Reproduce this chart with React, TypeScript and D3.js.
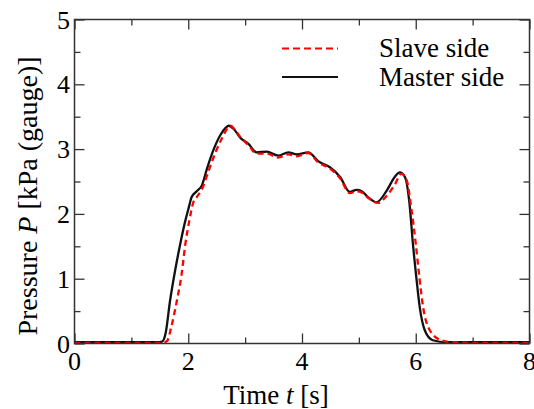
import { useEffect, useRef } from "react";
import * as d3 from "d3";

// master side (black, solid)
const masterTime = [0, 1.0, 1.45, 1.54, 1.6, 1.68, 1.77, 1.86, 1.95, 2.01, 2.06, 2.15, 2.24, 2.33, 2.44, 2.56, 2.66, 2.71, 2.8, 2.91, 3.06, 3.2, 3.38, 3.58, 3.76, 3.91, 4.11, 4.29, 4.49, 4.67, 4.84, 4.96, 5.05, 5.16, 5.31, 5.49, 5.63, 5.72, 5.81, 5.89, 5.95, 6.01, 6.07, 6.16, 6.3, 6.54, 7.0, 8.0];
const masterP = [0.02, 0.02, 0.02, 0.03, 0.15, 0.66, 1.13, 1.54, 1.9, 2.1, 2.26, 2.35, 2.44, 2.7, 2.98, 3.21, 3.33, 3.36, 3.31, 3.18, 3.08, 2.95, 2.96, 2.9, 2.95, 2.92, 2.95, 2.81, 2.72, 2.57, 2.34, 2.37, 2.35, 2.26, 2.18, 2.36, 2.57, 2.64, 2.57, 2.16, 1.54, 1.02, 0.56, 0.2, 0.05, 0.02, 0.02, 0.02];

// slave side (red, dashed)
const slaveTime = [0, 1.0, 1.55, 1.63, 1.7, 1.8, 1.88, 1.95, 2.02, 2.09, 2.15, 2.24, 2.36, 2.48, 2.6, 2.74, 2.82, 2.92, 3.06, 3.2, 3.38, 3.58, 3.76, 3.91, 4.11, 4.29, 4.49, 4.67, 4.84, 4.96, 5.05, 5.16, 5.34, 5.49, 5.63, 5.75, 5.84, 5.92, 6.0, 6.06, 6.13, 6.25, 6.45, 6.65, 7.0, 8.0];
const slaveP = [0.01, 0.01, 0.01, 0.04, 0.25, 0.66, 1.05, 1.54, 1.9, 2.18, 2.26, 2.38, 2.67, 2.95, 3.18, 3.36, 3.3, 3.18, 3.06, 2.93, 2.93, 2.87, 2.92, 2.89, 2.94, 2.79, 2.7, 2.55, 2.32, 2.35, 2.33, 2.25, 2.17, 2.28, 2.45, 2.62, 2.52, 2.1, 1.54, 1.05, 0.56, 0.2, 0.05, 0.02, 0.01, 0.01];

const xMajor = [0, 2, 4, 6, 8];
const xMinor = [1, 3, 5, 7];
const yMajor = [0, 1, 2, 3, 4, 5];
const yMinor = [0.5, 1.5, 2.5, 3.5, 4.5];

const legendLabels = ["Slave side", "Master side"];

const width = 534;
const height = 409;
const plot = { left: 74.5, right: 529.5, top: 19.5, bottom: 343.5 };
const font = "'Liberation Serif', 'Times New Roman', serif";

export default function App() {
    const xBotRef = useRef<SVGGElement>(null);
    const xTopRef = useRef<SVGGElement>(null);
    const yLeftRef = useRef<SVGGElement>(null);
    const yRightRef = useRef<SVGGElement>(null);

    const x = d3.scaleLinear().domain([0, 8]).range([plot.left, plot.right]);
    const y = d3.scaleLinear().domain([0, 5]).range([plot.bottom, plot.top]);

    const line = d3
        .line<[number, number]>()
        .x((d) => x(d[0]))
        .y((d) => y(d[1]))
        .curve(d3.curveMonotoneX);

    const master = line(masterTime.map((t, i) => [t, masterP[i]]) as [number, number][]);
    const slave = line(slaveTime.map((t, i) => [t, slaveP[i]]) as [number, number][]);

    useEffect(() => {
        // inward ticks, major then minor, on all four sides
        const draw = (ref: any, mk: any, scale: any, major: number[], minor: number[]) => {
            const g = d3.select(ref.current);
            g.selectAll("*").remove();
            g.append("g").call(mk(scale).tickValues(major).tickSize(-10).tickFormat(() => ""));
            g.append("g").call(mk(scale).tickValues(minor).tickSize(-6).tickFormat(() => ""));
            g.selectAll(".domain").remove();
            g.selectAll("line").attr("stroke", "#333").attr("stroke-width", 1.3);
        };
        draw(xBotRef, d3.axisBottom, x, xMajor, xMinor);
        draw(xTopRef, d3.axisTop, x, xMajor, xMinor);
        draw(yLeftRef, d3.axisLeft, y, yMajor, yMinor);
        draw(yRightRef, d3.axisRight, y, yMajor, yMinor);
    }, []);

    return (
        <svg width={width} height={height} style={{ position: "absolute", left: 0, top: 0, background: "#fff" }}>
            <g ref={xBotRef} transform={`translate(0,${plot.bottom})`}></g>
            <g ref={xTopRef} transform={`translate(0,${plot.top})`}></g>
            <g ref={yLeftRef} transform={`translate(${plot.left},0)`}></g>
            <g ref={yRightRef} transform={`translate(${plot.right},0)`}></g>

            <path d={master || ""} fill="none" stroke="#111" strokeWidth={2.3} />
            <path d={slave || ""} fill="none" stroke="#f00" strokeWidth={2.3} strokeDasharray="6,4" />

            <rect
                x={plot.left}
                y={plot.top}
                width={plot.right - plot.left}
                height={plot.bottom - plot.top}
                fill="none"
                stroke="#333"
                strokeWidth={1.5}
            />

            {/* tick labels */}
            {xMajor.map((v) => (
                <text key={"x" + v} x={x(v)} y={370} textAnchor="middle" fontFamily={font} fontSize={26}>
                    {v}
                </text>
            ))}
            {yMajor.map((v) => (
                <text key={"y" + v} x={70} y={y(v) + 9} textAnchor="end" fontFamily={font} fontSize={26}>
                    {v}
                </text>
            ))}

            {/* axis titles */}
            <text x={276} y={404} textAnchor="middle" fontFamily={font} fontSize={27}>
                Time <tspan fontStyle="italic">t</tspan> [s]
            </text>
            <text transform="translate(37,196) rotate(-90)" textAnchor="middle" fontFamily={font} fontSize={28}>
                Pressure <tspan fontStyle="italic">P</tspan> [kPa (gauge)]
            </text>

            {/* legend */}
            <line x1={282} x2={338} y1={48.5} y2={48.5} stroke="#f00" strokeWidth={2} strokeDasharray="7,4" />
            <line x1={282} x2={338} y1={77} y2={77} stroke="#111" strokeWidth={2} />
            <text x={379} y={57} fontFamily={font} fontSize={27}>
                {legendLabels[0]}
            </text>
            <text x={379} y={86} fontFamily={font} fontSize={27}>
                {legendLabels[1]}
            </text>
        </svg>
    );
}
